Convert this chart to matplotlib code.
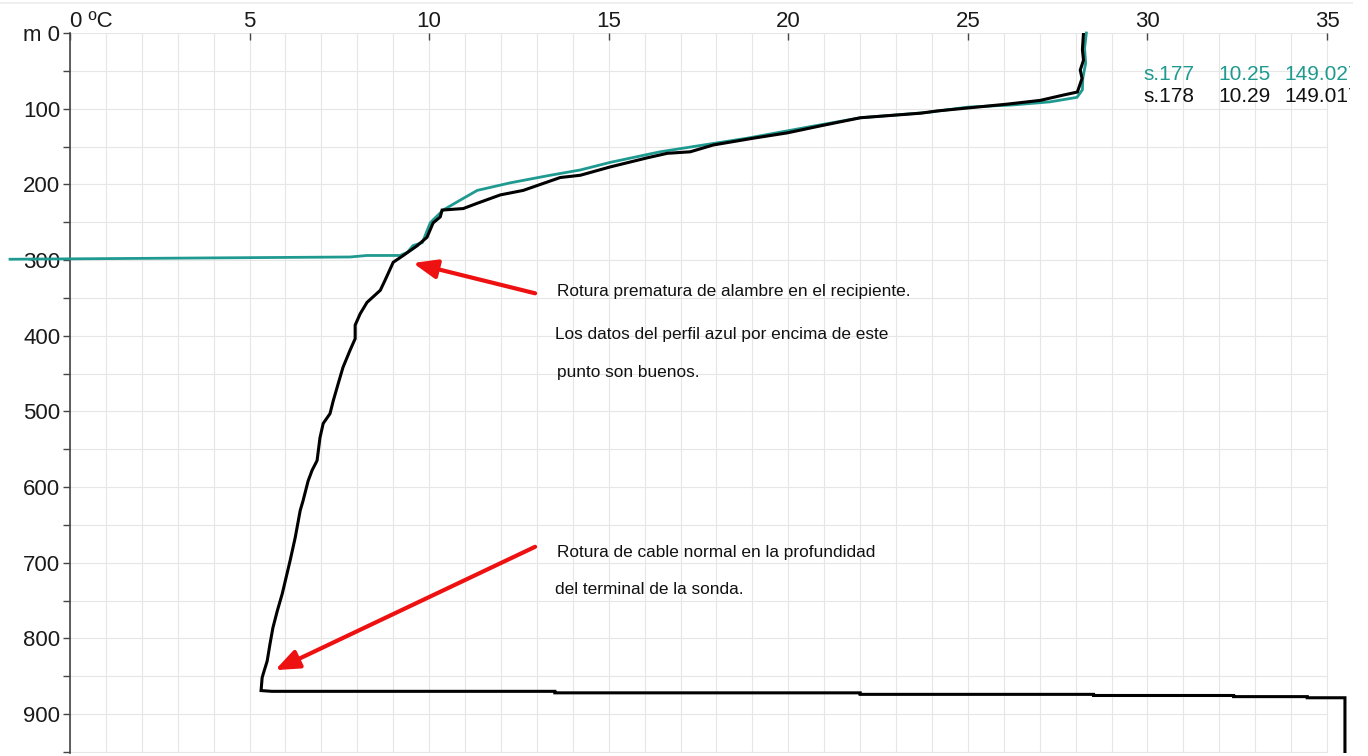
import matplotlib
matplotlib.use("Agg")
import matplotlib.pyplot as plt
from matplotlib.lines import Line2D
from matplotlib.transforms import Bbox, TransformedBbox

plt.rcParams['font.family'] = ['Liberation Sans', 'DejaVu Sans']

# Temperature profiles (temperature in ºC, depth in m)
s178_temp = [28.22, 28.19, 28.22, 28.13, 28.18, 28.05, 27.66, 27.02, 26.10, 24.15,
             23.68, 22.01, 20.97, 19.97, 19.03, 17.91, 17.27, 16.63, 16.07, 15.04,
             14.21, 13.65, 12.62, 11.98, 11.34, 10.95, 10.36, 10.31, 10.11, 9.94,
             9.67, 9.28, 9.00, 8.77, 8.64, 8.27, 8.08, 7.94, 7.94, 7.80,
             7.60, 7.47, 7.33, 7.24, 7.05, 6.96, 6.88, 6.74, 6.63, 6.49,
             6.41, 6.27, 6.13, 6.04, 5.91, 5.77, 5.65, 5.57, 5.49, 5.38,
             5.35, 5.32, 5.62, 13.5, 13.5, 22.0, 22.0, 28.5, 28.5, 32.4,
             32.4, 34.45, 34.45, 35.5, 35.5]
s178_depth = [0, 22, 36, 49, 60, 78, 82, 89, 94, 103,
              106, 112, 122, 132, 139, 148, 157, 159, 165, 177,
              188, 191, 208, 214, 225, 232, 234, 243, 251, 270,
              281, 294, 303, 327, 340, 356, 371, 386, 404, 419,
              442, 463, 486, 503, 516, 535, 565, 578, 592, 618,
              631, 667, 697, 715, 741, 764, 786, 807, 830, 847,
              852, 869, 870, 870, 872, 872, 874, 874, 875.5, 875.5,
              877, 877, 878.5, 878.5, 1000]

s177_temp = [28.30, 28.25, 28.28, 28.20, 28.19, 28.04, 27.29, 26.27, 24.99, 23.87,
             22.01, 20.70, 19.78, 18.86, 17.91, 16.43, 15.04, 14.21, 13.37, 12.26,
             11.34, 10.86, 10.39, 10.11, 10.03, 9.81, 9.55, 9.39, 9.19, 8.27,
             7.80, -1.67]
s177_depth = [0, 20, 40, 60, 75, 85, 91, 95, 98, 105,
              112, 123, 131, 139, 146, 157, 171, 181, 188, 198,
              208, 221, 234, 247, 251, 277, 281, 290, 294, 294,
              296, 299]

x_ticks = [0, 5, 10, 15, 20, 25, 30, 35]
x_labels = ['0 ºC', '5', '10', '15', '20', '25', '30', '35']
y_ticks = [0, 100, 200, 300, 400, 500, 600, 700, 800, 900]
y_labels = ['m 0', '100', '200', '300', '400', '500', '600', '700', '800', '900']

legend_rows = [
    ('s.177', '10.25', '149.027', '#1f9a90'),
    ('s.178', '10.29', '149.017', '#111111'),
]

W, H = 1368, 756
fig = plt.figure(figsize=(W / 100, H / 100), dpi=100)
ax = fig.add_axes([70 / W, 1 - 753 / H, 1298 / W, 720 / H])
ax.set_xlim(0, 1298 / 35.914)
ax.set_ylim(951.5, 0)

# light grid limited to the 0-35 ºC frame
grid_c = '#e6e6e6'
for t in range(0, 36):
    ax.plot([t, t], [0, 951.5], color=grid_c, lw=0.8, zorder=0.5)
for d in range(0, 951, 50):
    ax.plot([0, 35], [d, d], color=grid_c, lw=0.8, zorder=0.5)

# profiles
ax.plot(s177_temp, s177_depth, color='#1f9a90', lw=2.0, zorder=3, clip_on=False,
        solid_joinstyle='miter')
ax.plot(s178_temp, s178_depth, color='#000000', lw=2.2, zorder=4,
        solid_joinstyle='miter')

# axes styling
for s in ['top', 'right', 'bottom']:
    ax.spines[s].set_visible(False)
ax.spines['left'].set_color('#444444')
ax.spines['left'].set_linewidth(1.2)

ax.xaxis.tick_top()
ax.set_xticks(x_ticks)
ax.set_xticklabels(x_labels)
ax.tick_params(axis='x', direction='in', length=5, width=1, color='#444444',
               labelsize=16, labelcolor='#1a1a1a', pad=0.5)
xl = ax.get_xticklabels()
xl[0].set_horizontalalignment('left')

ax.set_yticks(y_ticks)
ax.set_yticklabels(y_labels)
ax.set_yticks(list(range(50, 951, 100)), minor=True)
ax.tick_params(axis='y', which='both', direction='out', length=5, width=1,
               color='#444444', labelsize=16, labelcolor='#1a1a1a', pad=2)

# annotations
arrow_kw = dict(arrowstyle='-|>,head_length=0.8,head_width=0.32', color='#ee1111',
                lw=3, mutation_scale=18, shrinkA=0, shrinkB=0)
ax.annotate('', xy=(9.55, 304), xytext=(12.95, 344), arrowprops=arrow_kw, zorder=5)
ax.annotate('', xy=(5.71, 842), xytext=(12.95, 679), arrowprops=arrow_kw, zorder=5)

note_kw = dict(fontsize=12.4, color='#111111', va='center', ha='left')
ax.text(13.56, 341, 'Rotura prematura de alambre en el recipiente.', **note_kw)
ax.text(13.50, 399, 'Los datos del perfil azul por encima de este', **note_kw)
ax.text(13.56, 448, 'punto son buenos.', **note_kw)
ax.text(13.56, 686, 'Rotura de cable normal en la profundidad', **note_kw)
ax.text(13.50, 736, 'del terminal de la sonda.', **note_kw)

# station summary
clip = TransformedBbox(Bbox([[0, 0], [1350 / W, 1]]), fig.transFigure)
for i, (name, v1, v2, col) in enumerate(legend_rows):
    y = 55.5 + i * 27.8
    for x, s in [(29.88, name), (31.97, v1), (33.80, v2)]:
        t = ax.text(x, y, s, fontsize=15, color=col, va='center', ha='left',
                    zorder=6)
        t.set_clip_on(True)
        t.set_clip_box(clip)

fig.add_artist(Line2D([0, 1352 / W], [1 - 3 / H, 1 - 3 / H], color='#ececec', lw=1.2))

fig.savefig('out.png', dpi=100)
